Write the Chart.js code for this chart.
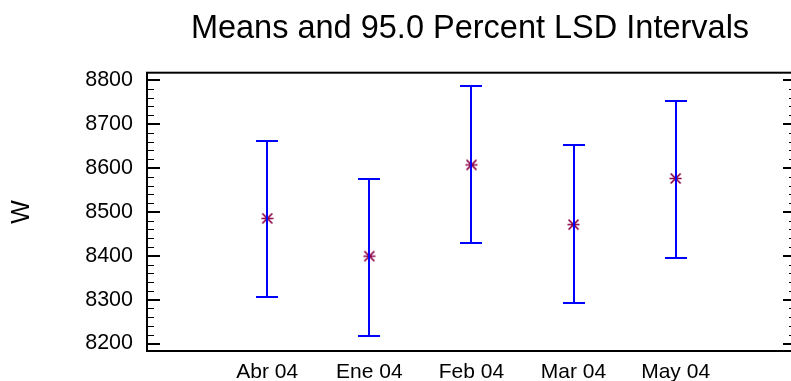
<!DOCTYPE html>
<html>
<head>
<meta charset="utf-8">
<script src="https://cdn.jsdelivr.net/npm/chart.js@4/dist/chart.umd.min.js"></script>
<style>
  html, body { margin: 0; padding: 0; overflow: hidden; background: #fff; }
  #wrap { position: absolute; left: 0; top: 0; width: 940px; height: 381px; }
</style>
</head>
<body>
<div id="wrap"><canvas id="lsdChart"></canvas></div>
<script>
const categories = ['Abr 04', 'Ene 04', 'Feb 04', 'Mar 04', 'May 04'];
const means = [8485, 8399, 8607, 8471, 8576];
const lower = [8306, 8218, 8428, 8293, 8395];
const upper = [8661, 8575, 8786, 8652, 8752];
const yTicks = [8200, 8300, 8400, 8500, 8600, 8700, 8800];
const minorStep = 20;

const barColor = '#0000ff';
const markColor = '#8c0046';
const font = 'Liberation Sans, Arial, Helvetica, sans-serif';

// asterisk-like marker: an X with a horizontal stroke
function makeMarker() {
    const c = document.createElement('canvas');
    c.width = 13;
    c.height = 13;
    const g = c.getContext('2d');
    g.strokeStyle = markColor;
    g.lineWidth = 1.7;
    g.beginPath();
    g.moveTo(1.5, 1.5); g.lineTo(11.5, 11.5);
    g.moveTo(11.5, 1.5); g.lineTo(1.5, 11.5);
    g.moveTo(0.5, 6.5); g.lineTo(12.5, 6.5);
    g.stroke();
    return c;
}

// interval whiskers, drawn over the means
const intervalBars = {
    id: 'intervalBars',
    afterDatasetsDraw(chart) {
        const ctx = chart.ctx;
        const xs = chart.scales.x;
        const ys = chart.scales.y;
        ctx.save();
        ctx.strokeStyle = barColor;
        ctx.lineWidth = 2;
        for (let i = 0; i < categories.length; i++) {
            const x = Math.round(xs.getPixelForValue(i));
            const yLo = Math.round(ys.getPixelForValue(lower[i]));
            const yHi = Math.round(ys.getPixelForValue(upper[i]));
            ctx.beginPath();
            ctx.moveTo(x, yLo);
            ctx.lineTo(x, yHi);
            ctx.moveTo(x - 11, yHi);
            ctx.lineTo(x + 11, yHi);
            ctx.moveTo(x - 11, yLo);
            ctx.lineTo(x + 11, yLo);
            ctx.stroke();
        }
        ctx.restore();
    }
};

// box around the plot with inward ticks on both vertical sides
const frame = {
    id: 'frame',
    afterDraw(chart) {
        const ctx = chart.ctx;
        const a = chart.chartArea;
        const ys = chart.scales.y;
        ctx.save();
        ctx.strokeStyle = '#000';
        for (let v = yTicks[0]; v <= yTicks[yTicks.length - 1]; v += minorStep) {
            const major = v % 100 === 0;
            const y = Math.round(ys.getPixelForValue(v)) + (major ? 0 : 0.5);
            const len = major ? 13 : 7;
            ctx.lineWidth = major ? 2 : 1;
            ctx.beginPath();
            ctx.moveTo(a.left, y);
            ctx.lineTo(a.left + len, y);
            ctx.moveTo(a.right - len, y);
            ctx.lineTo(a.right, y);
            ctx.stroke();
        }
        ctx.lineWidth = 2;
        ctx.strokeRect(a.left, a.top, a.right - a.left, a.bottom - a.top);
        ctx.restore();
    }
};

Chart.defaults.color = '#000';
Chart.defaults.font.family = font;

new Chart(document.getElementById('lsdChart'), {
    type: 'scatter',
    data: {
        datasets: [{
            data: means.map((m, i) => ({ x: i, y: m })),
            pointStyle: makeMarker(),
            pointRadius: 6,
            pointHoverRadius: 6
        }]
    },
    options: {
        responsive: true,
        maintainAspectRatio: false,
        animation: false,
        events: [],
        layout: { padding: 0 },
        plugins: {
            legend: { display: false },
            tooltip: { enabled: false },
            title: {
                display: true,
                text: 'Means and 95.0 Percent LSD Intervals',
                font: { size: 32.5, weight: 'normal' },
                padding: { top: 10, bottom: 23.7 }
            }
        },
        scales: {
            x: {
                type: 'linear',
                min: -1.178,
                max: 5.179,
                grid: { display: false },
                border: { display: false },
                afterBuildTicks: s => { s.ticks = categories.map((_, i) => ({ value: i })); },
                afterFit: s => { s.height = 30; },
                ticks: {
                    padding: 1,
                    font: { size: 21 },
                    maxRotation: 0,
                    callback: v => categories[v]
                }
            },
            y: {
                min: 8183,
                max: 8817,
                grid: { display: false, drawTicks: false },
                border: { display: false },
                afterBuildTicks: s => { s.ticks = yTicks.map(v => ({ value: v })); },
                afterFit: s => { s.width = 147; },
                ticks: { padding: 14, font: { size: 21.5 }, callback: v => String(v) },
                title: {
                    display: true,
                    text: 'W',
                    font: { size: 25 },
                    padding: { top: 7, bottom: 0 }
                }
            },
            yRight: {
                position: 'right',
                min: 8183,
                max: 8817,
                grid: { display: false },
                border: { display: false },
                ticks: { display: false },
                afterFit: s => { s.width = 144; }
            }
        }
    },
    plugins: [intervalBars, frame]
});
</script>
</body>
</html>
